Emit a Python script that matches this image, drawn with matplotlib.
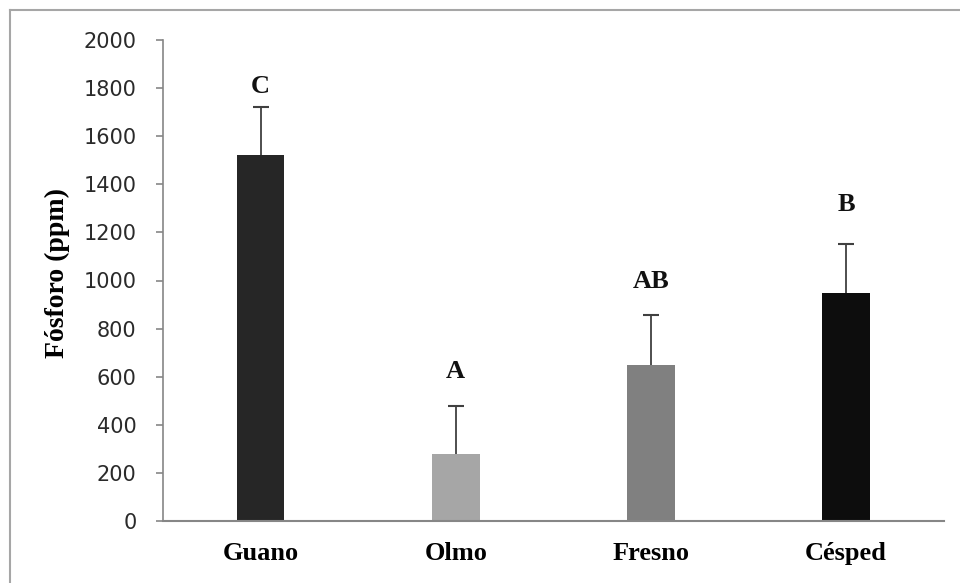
import matplotlib.pyplot as plt
from matplotlib.lines import Line2D

# data
categories = ['Guano', 'Olmo', 'Fresno', 'Césped']
fosforo = [1520, 280, 650, 950]
error = [200, 200, 205, 200]
letters = ['C', 'A', 'AB', 'B']
letter_y = [1805, 620, 995, 1315]
colors = ['#262626', '#a6a6a6', '#808080', '#0d0d0d']

fig = plt.figure(figsize=(9.6, 5.83), dpi=100)
ax = fig.add_axes([163 / 960, 1 - 521 / 583, (943.5 - 163) / 960, (521 - 40) / 583])

x = list(range(len(categories)))
tops = [v + e for v, e in zip(fosforo, error)]
ax.bar(x, fosforo, width=0.245, color=colors, zorder=2)
# upper error bars only, cap at the top
ax.vlines(x, fosforo, tops, color='#404040', lw=1.3, zorder=1)
ax.plot(x, tops, linestyle='none', marker='_', markersize=11, markeredgewidth=1.5,
        color='#404040', zorder=1)

for xi, txt, yy in zip(x, letters, letter_y):
    ax.text(xi, yy, txt, ha='center', va='center', fontsize=19,
            fontweight='bold', family='Liberation Serif', color='#111111')

ax.set_xlim(-0.5, 3.5)
ax.set_ylim(0, 2000)
ax.set_yticks(range(0, 2001, 200))
ax.set_xticks(x)
ax.set_xticklabels(categories, fontsize=19, fontweight='bold', family='Liberation Serif')
ax.tick_params(axis='x', length=0, pad=15)
ax.tick_params(axis='y', length=5, color='#868686', width=1.2, labelsize=15,
               labelcolor='#2a2a2a', pad=14)
for lab in ax.get_yticklabels():
    lab.set_family('DejaVu Sans')

for s in ['top', 'right']:
    ax.spines[s].set_visible(False)
ax.spines['left'].set_color('#868686')
ax.spines['bottom'].set_color('#868686')
ax.spines['left'].set_linewidth(1.2)
ax.spines['bottom'].set_linewidth(1.5)

fig.text(57 / 960, 1 - 273 / 583, 'Fósforo (ppm)', rotation=90, ha='center', va='center',
         fontsize=20, fontweight='bold', family='Liberation Serif')

# outer frame (top and left edges visible)
fig.add_artist(Line2D([9.5 / 960, 1], [1 - 10 / 583, 1 - 10 / 583], transform=fig.transFigure,
                      color='#a6a6a6', lw=1.5))
fig.add_artist(Line2D([9.5 / 960, 9.5 / 960], [0, 1 - 10 / 583], transform=fig.transFigure,
                      color='#a6a6a6', lw=1.5))

fig.savefig('out.png', dpi=100)
